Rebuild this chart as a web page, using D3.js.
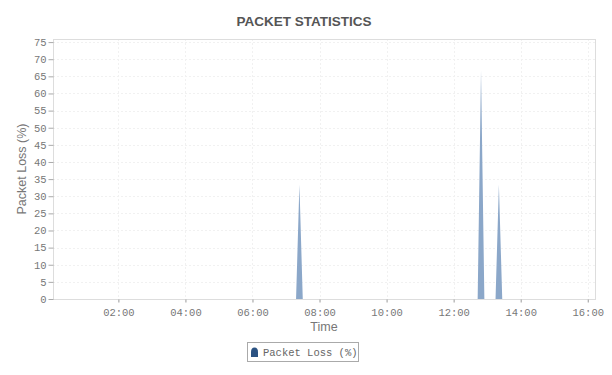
<!DOCTYPE html>
<html>
<head>
<meta charset="utf-8">
<script src="https://cdn.jsdelivr.net/npm/d3@7"></script>
<style>
  html, body { margin: 0; padding: 0; background: #fff; }
  svg { display: block; }
</style>
</head>
<body>
<svg id="chart" width="612" height="375"></svg>
<script>
// ---- data ----
const times = ["00:03", "07:18", "07:24", "07:30", "12:43", "12:49", "12:55", "13:15", "13:21", "13:27", "16:13"];
const lossValues = [0, 0, 33.33, 0, 0, 66.67, 0, 0, 33.33, 0, 0];
const yTicks = [0, 5, 10, 15, 20, 25, 30, 35, 40, 45, 50, 55, 60, 65, 70, 75];
const xTickLabels = ["02:00", "04:00", "06:00", "08:00", "10:00", "12:00", "14:00", "16:00"];
const seriesName = "Packet Loss (%)";
const titleText = "PACKET STATISTICS";

(function () {
// ---- setup ----
const parse = d3.timeParse("%Y-%m-%d %H:%M");
const day = "2020-01-01 ";
const data = times.map((t, i) => ({ t: parse(day + t), v: lossValues[i] }));

const svg = d3.select("#chart");
const pL = 53, pR = 595, pT = 39, pB = 299;

const x = d3.scaleTime()
  .domain([parse(day + "00:03"), parse(day + "16:13")])
  .range([pL, pR]);
const y = d3.scaleLinear()
  .domain([0, 75.9])
  .range([pB, pT]);

const xTicks = xTickLabels.map(s => parse(day + s));

// grid
const grid = svg.append("g");
grid.selectAll("line.h").data(yTicks.filter(d => d > 0)).enter().append("line")
  .attr("x1", pL).attr("x2", pR)
  .attr("y1", d => Math.round(y(d)) + 0.5).attr("y2", d => Math.round(y(d)) + 0.5)
  .attr("stroke", "#f1f1f1").attr("stroke-dasharray", "2,2");
grid.selectAll("line.v").data(xTicks).enter().append("line")
  .attr("y1", pT).attr("y2", pB)
  .attr("x1", d => Math.round(x(d)) + 0.5).attr("x2", d => Math.round(x(d)) + 0.5)
  .attr("stroke", "#f1f1f1").attr("stroke-dasharray", "2,2");

// area
const area = d3.area()
  .x(d => x(d.t))
  .y0(y(0))
  .y1(d => y(d.v))
  .curve(d3.curveLinear);
svg.append("path").datum(data)
  .attr("d", area)
  .attr("fill", "#8ba7c9");

// frame
svg.append("rect")
  .attr("x", pL + 0.5).attr("y", pT + 0.5)
  .attr("width", pR - pL).attr("height", pB - pT)
  .attr("fill", "none").attr("stroke", "#dddddd");

// y axis
const yAxis = d3.axisLeft(y).tickValues(yTicks).tickSize(5).tickPadding(2).tickFormat(d3.format("d"));
const gy = svg.append("g").attr("transform", `translate(${pL + 0.5},0)`).call(yAxis);
gy.select(".domain").remove();
gy.selectAll(".tick line").attr("stroke", "#aaa");
gy.selectAll(".tick text")
  .attr("font-family", "Liberation Mono, monospace").attr("font-size", 10.5).attr("fill", "#777");

// x axis
const xAxis = d3.axisBottom(x).tickValues(xTicks).tickSize(3).tickPadding(6).tickFormat(d3.timeFormat("%H:%M"));
const gx = svg.append("g").attr("transform", `translate(0,${pB + 0.5})`).call(xAxis);
gx.select(".domain").remove();
gx.selectAll(".tick line").attr("stroke", "#999");
gx.selectAll(".tick text")
  .attr("font-family", "Liberation Mono, monospace").attr("font-size", 10.5).attr("fill", "#777");

// title
svg.append("text").attr("x", 304).attr("y", 26)
  .attr("text-anchor", "middle")
  .attr("font-family", "Liberation Sans, Arial, sans-serif")
  .attr("font-weight", "bold").attr("font-size", 13.5).attr("fill", "#555")
  .text(titleText);

// axis titles
svg.append("text").attr("x", (pL + pR) / 2).attr("y", 331)
  .attr("text-anchor", "middle")
  .attr("font-family", "Liberation Sans, Arial, sans-serif")
  .attr("font-size", 12.5).attr("fill", "#777")
  .text("Time");
svg.append("text")
  .attr("transform", `translate(26,${(pT + pB) / 2}) rotate(-90)`)
  .attr("text-anchor", "middle")
  .attr("font-family", "Liberation Sans, Arial, sans-serif")
  .attr("font-size", 12.5).attr("fill", "#777")
  .text("Packet Loss (%)");

// legend
const lg = svg.append("g");
lg.append("rect").attr("x", 247.5).attr("y", 342.5).attr("width", 111).attr("height", 19)
  .attr("fill", "#fff").attr("stroke", "#aaa");
lg.append("path")
  .attr("d", "M251,357 L251,352 Q251,347.5 254.5,347.5 Q258,347.5 258,352 L258,357 Z")
  .attr("fill", "#2b5282");
lg.append("text").attr("x", 263).attr("y", 356)
  .attr("font-family", "Liberation Mono, monospace").attr("font-size", 10.5).attr("fill", "#666")
  .text(seriesName);
})();
</script>
</body>
</html>
